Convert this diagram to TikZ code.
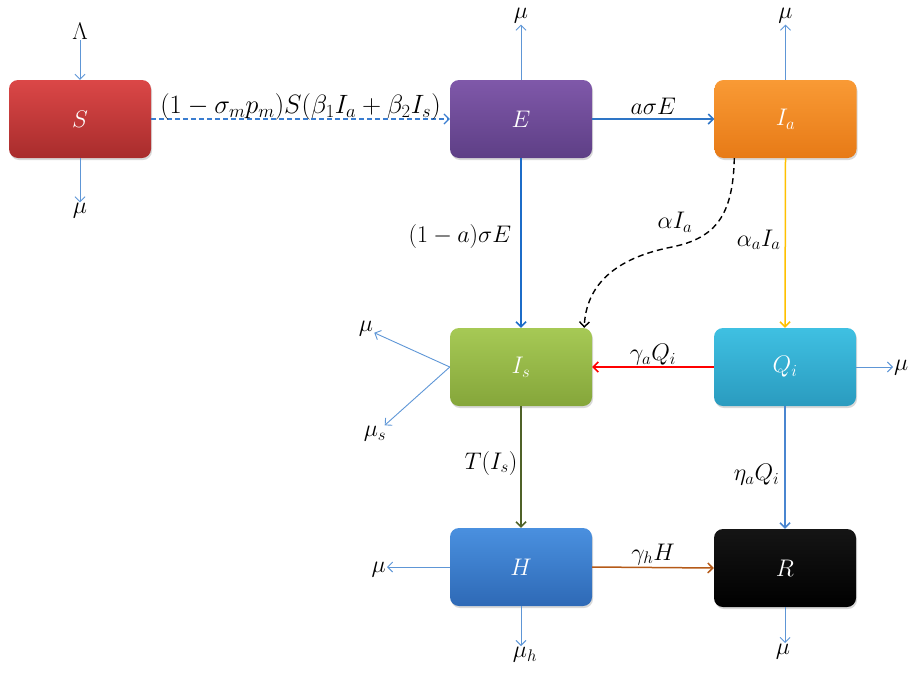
\RequirePackage{fix-cm}
\documentclass[tikz,border=0pt]{standalone}
\usetikzlibrary{arrows.meta,shadows,calc}
\definecolor{sTop}{HTML}{DB4747}
\definecolor{sBot}{HTML}{A82C2C}
\definecolor{eTop}{HTML}{7F58A9}
\definecolor{eBot}{HTML}{5E3F86}
\definecolor{iaTop}{HTML}{F99A35}
\definecolor{iaBot}{HTML}{E77A16}
\definecolor{isTop}{HTML}{A6C955}
\definecolor{isBot}{HTML}{85A63A}
\definecolor{qTop}{HTML}{3FC0E2}
\definecolor{qBot}{HTML}{2A9BBF}
\definecolor{hTop}{HTML}{4A90DF}
\definecolor{hBot}{HTML}{2E69B6}
\definecolor{rTop}{HTML}{151515}
\definecolor{rBot}{HTML}{000000}
\definecolor{mublue}{HTML}{5E96D6}
\definecolor{dashblue}{HTML}{3A7DD0}
\definecolor{eblue}{HTML}{2E75C6}
\definecolor{vblue}{HTML}{1C6CC8}
\definecolor{qblue}{HTML}{4A86D0}
\definecolor{ayellow}{HTML}{FFC000}
\definecolor{olive}{HTML}{4F6228}
\definecolor{brown2}{HTML}{B55A18}
\begin{document}
\begin{tikzpicture}[x=1pt,y=-1pt,
  box/.style={rounded corners=9pt, minimum width=142pt, minimum height=78pt, inner sep=0pt,
    text=white, font=\fontsize{24}{28}\selectfont,
    drop shadow={opacity=0.3,shadow xshift=1pt,shadow yshift=-2pt}},
  lab/.style={font=\fontsize{24}{28}\selectfont, inner sep=1pt},
  biglab/.style={font=\fontsize{26.5}{30}\selectfont, inner sep=1pt},
  tipped/.style={-{Straight Barb[length=5pt,width=10pt]}},
  muar/.style={tipped, draw=mublue, line width=0.9pt},
  mainar/.style={tipped, line width=1.5pt}
]
\useasboundingbox (0,0) rectangle (915,675);

% compartments
\node[box, top color=sTop, bottom color=sBot] (S) at (80,119) {$S$};
\node[box, top color=eTop, bottom color=eBot] (E) at (521,119) {$E$};
\node[box, top color=iaTop, bottom color=iaBot] (Ia) at (785.5,119) {$I_a$};
\node[box, top color=isTop, bottom color=isBot] (Is) at (521,367) {$I_s$};
\node[box, top color=qTop, bottom color=qBot] (Qi) at (785,367) {$Q_i$};
\node[box, top color=hTop, bottom color=hBot] (H) at (521,567) {$H$};
\node[box, top color=rTop, bottom color=rBot] (R) at (785,568) {$R$};

% outer labels
\node[lab] (L) at (80,31) {$\Lambda$};
\node[lab] (muS) at (80,211) {$\mu$};
\node[lab] (muE) at (521,16) {$\mu$};
\node[lab] (muIa) at (785.5,16) {$\mu$};
\node[lab, anchor=west] (muQ) at (893,368) {$\mu$};
\node[lab] (muIs) at (366,329) {$\mu$};
\node[lab] (musIs) at (375,434) {$\mu_s$};
\node[lab, anchor=east] (muH) at (387,570) {$\mu$};
\node[lab, anchor=north] (muhH) at (525,646) {$\mu_h$};
\node[lab, anchor=north] (muR) at (783,643) {$\mu$};

% birth and death arrows
\draw[muar] (L) -- (S.north);
\draw[muar] (S.south) -- (muS);
\draw[muar] (E.north) -- (muE);
\draw[muar] (Ia.north) -- (muIa);
\draw[muar] (Qi.east) -- (Qi.east -| muQ.west);
\draw[muar] (Is.west) -- (muIs);
\draw[muar] (Is.west) -- (musIs);
\draw[muar] (H.west) -- (H.west -| muH.east);
\draw[muar] (H.south) -- (H.south |- muhH.north);
\draw[muar] (R.south) -- (R.south |- muR.north);

% transitions
\draw[mainar, draw=dashblue, line width=1.2pt, dash pattern=on 5pt off 3pt] (S.east) -- (E.west)
  node[midway, above=-3pt, biglab] {$(1-\sigma_m p_m)S(\beta_1 I_a+\beta_2 I_s)$};
\draw[mainar, draw=eblue] (E.east) -- (Ia.west)
  node[midway, above=3pt, lab] {$a\sigma E$};
\draw[mainar, draw=vblue] (E.south) -- (Is.north)
  node[pos=0.46, left=8pt, lab] {$(1-a)\sigma E$};
\draw[mainar, draw=ayellow] (Ia.south) -- (Qi.north)
  node[pos=0.48, left=3pt, lab] {$\alpha_a I_a$};
\coordinate (dS) at ($(Ia.south west)+(20,0)$);
\coordinate (dE) at ($(Is.north east)+(-8,0)$);
\draw[tipped, line width=1.4pt, dash pattern=on 6pt off 4pt, black] (dS) .. controls (733,215) and (716,238) .. (672,247)
  .. controls (615,258) and (586,285) .. (dE);
\node[lab] (aIa) at (675,222) {$\alpha I_a$};
\draw[mainar, draw=red] (Qi.west) -- (Is.east)
  node[midway, above=0pt, lab] {$\gamma_a Q_i$};
\draw[mainar, draw=olive] (Is.south) -- (H.north)
  node[pos=0.47, left=2pt, lab] {$T(I_s)$};
\draw[mainar, draw=qblue] (Qi.south) -- (R.north)
  node[pos=0.56, left=4pt, lab] {$\eta_a Q_i$};
\draw[mainar, draw=brown2] (H.east) -- (R.west)
  node[midway, above=1pt, lab] {$\gamma_h H$};
\end{tikzpicture}
\end{document}
